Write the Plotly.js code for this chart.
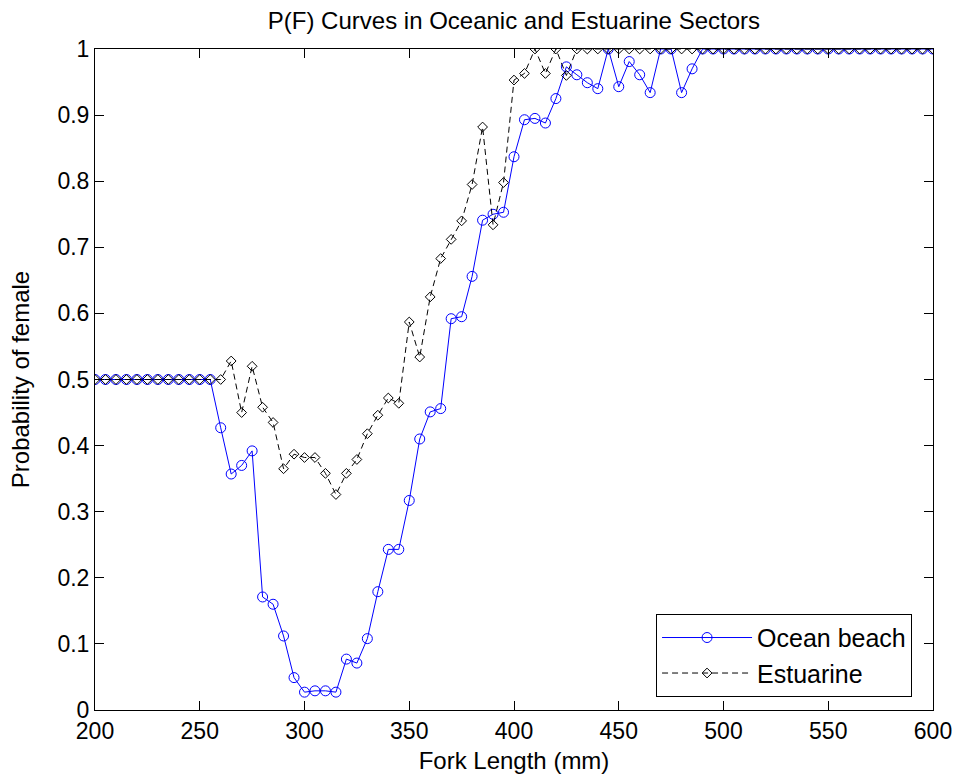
<!DOCTYPE html>
<html>
<head>
<meta charset="utf-8">
<script src="https://cdn.plot.ly/plotly-3.0.1.min.js"></script>
<style>html,body{margin:0;padding:0;background:#fff;}#chart{width:957px;height:777px;}</style>
</head>
<body>
<div id="chart"></div>
<script>
const forkLength = [200,205,210,215,220,225,230,235,240,245,250,255,260,265,270,275,280,285,290,295,300,305,310,315,320,325,330,335,340,345,350,355,360,365,370,375,380,385,390,395,400,405,410,415,420,425,430,435,440,445,450,455,460,465,470,475,480,485,490,495,500,505,510,515,520,525,530,535,540,545,550,555,560,565,570,575,580,585,590,595,600];

const oceanBeach = [0.5,0.5,0.5,0.5,0.5,0.5,0.5,0.5,0.5,0.5,0.5,0.5,
  0.427,0.357,0.370,0.392,0.171,0.160,0.112,0.049,0.027,0.029,0.029,0.027,
  0.077,0.071,0.108,0.179,0.243,0.243,0.317,0.410,0.451,0.456,0.592,0.595,
  0.656,0.741,0.750,0.753,0.837,0.893,0.895,0.888,0.925,0.973,0.961,0.949,
  0.940,1.0,0.943,0.981,0.961,0.934,1.0,1.0,0.934,0.970,
  1,1,1,1,1,1,1,1,1,1,1,1,1,1,1,1,1,1,1,1,1,1,1];

const estuarine = [0.5,0.5,0.5,0.5,0.5,0.5,0.5,0.5,0.5,0.5,0.5,0.5,
  0.5,0.528,0.450,0.520,0.458,0.435,0.365,0.387,0.382,0.382,0.358,0.326,
  0.358,0.379,0.418,0.446,0.472,0.464,0.587,0.534,0.625,0.683,0.712,0.740,
  0.795,0.882,0.734,0.798,0.953,0.963,1.0,0.963,1.0,0.960,
  1,1,1,1,1,1,1,1,1,1,1,1,1,1,1,1,1,1,1,1,1,1,1,1,1,1,1,1,1,1,1,1,1,1,1];

const xTicks = [200,250,300,350,400,450,500,550,600];
const yTicks = [0,0.1,0.2,0.3,0.4,0.5,0.6,0.7,0.8,0.9,1];
const yTickText = ['0','0.1','0.2','0.3','0.4','0.5','0.6','0.7','0.8','0.9','1'];

const font = 'Liberation Sans, Arial, Helvetica, sans-serif';

const traces = [
  {
    x: forkLength, y: oceanBeach, name: 'Ocean beach', type: 'scatter', mode: 'lines+markers',
    line: {color: '#0000ff', width: 1},
    marker: {symbol: 'circle-open', size: 10, color: '#0000ff', line: {width: 1, color: '#0000ff'}}
  },
  {
    x: forkLength, y: estuarine, name: 'Estuarine', type: 'scatter', mode: 'lines+markers',
    line: {color: '#000000', width: 1, dash: '6px,4px'},
    marker: {symbol: 'diamond-open', size: 7.5, color: '#000000', line: {width: 1, color: '#000000'}}
  }
];

const layout = {
  width: 957, height: 777,
  paper_bgcolor: '#ffffff', plot_bgcolor: '#ffffff',
  margin: {l: 95, r: 24, t: 49, b: 67},
  font: {family: font, color: '#000', size: 24},
  title: {text: 'P(F) Curves in Oceanic and Estuarine Sectors', font: {family: font, size: 24, color: '#000'}, x: 0.537, xanchor: 'center', y: 0.973, yanchor: 'middle'},
  showlegend: true,
  legend: {
    x: 0.975, xanchor: 'right', y: 0.02, yanchor: 'bottom',
    bgcolor: '#ffffff', bordercolor: '#000000', borderwidth: 1,
    font: {family: font, size: 25, color: '#000'},
    itemwidth: 90, tracegroupgap: 0
  },
  xaxis: {
    range: [200, 600], tickvals: xTicks, ticktext: xTicks.map(String),
    ticks: 'inside', ticklen: 9, tickcolor: '#000', tickwidth: 1,
    showline: true, linecolor: '#000', linewidth: 1, mirror: 'ticks',
    showgrid: false, zeroline: false,
    tickfont: {family: font, size: 23, color: '#000'},
    title: {text: 'Fork Length (mm)', font: {family: font, size: 24, color: '#000'}, standoff: 9}
  },
  yaxis: {
    range: [0, 1], tickvals: yTicks, ticktext: yTickText,
    ticks: 'inside', ticklen: 9, tickcolor: '#000', tickwidth: 1,
    showline: true, linecolor: '#000', linewidth: 1, mirror: 'ticks',
    showgrid: false, zeroline: false,
    tickfont: {family: font, size: 23, color: '#000'},
    title: {text: 'Probability of female', font: {family: font, size: 24, color: '#000'}, standoff: 21}
  }
};

Plotly.newPlot('chart', traces, layout, {staticPlot: true, displayModeBar: false});
</script>
</body>
</html>
